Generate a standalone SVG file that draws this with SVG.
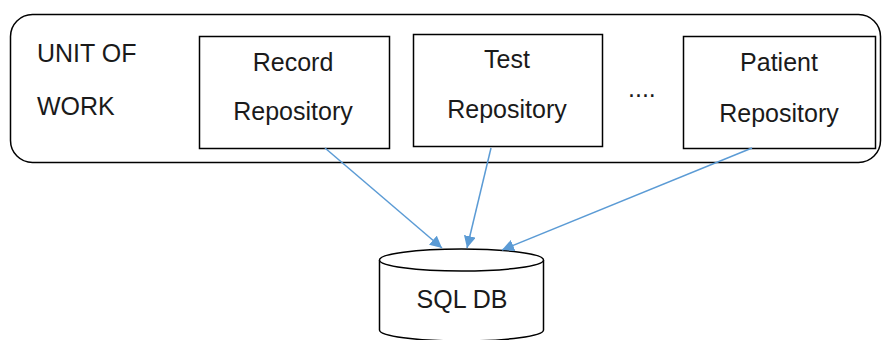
<svg xmlns="http://www.w3.org/2000/svg" width="883" height="340" viewBox="0 0 883 340">
<style>
.box{fill:#fff;stroke:#000;stroke-width:1.5}
.t{font-family:"Liberation Sans",Arial,sans-serif;font-size:25px;fill:#1a1a1a}
.m{text-anchor:middle}
.c{stroke:#5B9BD5;stroke-width:1.5;fill:none;marker-end:url(#ah)}
</style>
<defs>
<marker id="ah" viewBox="0 0 10 10" refX="10" refY="5" markerWidth="12" markerHeight="12" markerUnits="userSpaceOnUse" orient="auto">
<path d="M0,0 L10,5 L0,10 z" fill="#5B9BD5"/>
</marker>
</defs>
<g id="unit-of-work">
<rect class="box" x="10.5" y="14.5" width="870" height="148" rx="22" ry="22"/>
<text class="t" x="37" y="62">UNIT OF</text>
<text class="t" x="37" y="115">WORK</text>
<text class="t" x="628" y="97">....</text>
</g>
<g id="record-repository">
<rect class="box" x="199.5" y="36.5" width="190" height="112"/>
<text class="t m" x="293" y="71">Record</text>
<text class="t m" x="293" y="120">Repository</text>
</g>
<g id="test-repository">
<rect class="box" x="413.5" y="34.5" width="189" height="112"/>
<text class="t m" x="507" y="68">Test</text>
<text class="t m" x="507" y="118">Repository</text>
</g>
<g id="patient-repository">
<rect class="box" x="683.5" y="36.5" width="192" height="112"/>
<text class="t m" x="779" y="71">Patient</text>
<text class="t m" x="779" y="122">Repository</text>
</g>
<g id="sql-db">
<path class="box" d="M379.5,260 L379.5,330 A82,11 0 0 0 543.5,330 L543.5,260"/>
<ellipse class="box" cx="461.5" cy="260" rx="82" ry="11"/>
<text class="t m" x="462" y="308">SQL DB</text>
</g>
<g id="connectors">
<line class="c" x1="325" y1="148" x2="442" y2="248"/>
<line class="c" x1="491" y1="148" x2="467" y2="248"/>
<line class="c" x1="752" y1="148" x2="502" y2="250"/>
</g>
</svg>
